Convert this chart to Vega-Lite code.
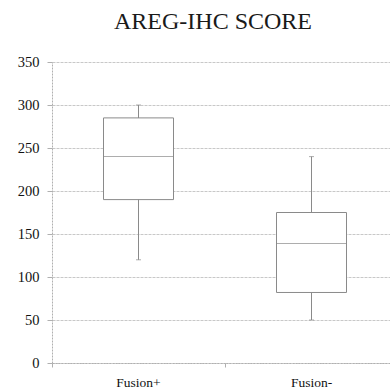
{
  "$schema": "https://vega.github.io/schema/vega-lite/v6.json",
  "autosize": {"type": "none"},
  "width": 346,
  "height": 301,
  "padding": {"left": 52, "top": 62, "right": 0, "bottom": 27},
  "background": "white",
  "title": {
    "text": "AREG-IHC SCORE",
    "font": "Liberation Serif",
    "fontSize": 24,
    "fontWeight": "normal",
    "color": "#1a1a1a",
    "anchor": "middle",
    "dx": -12,
    "offset": 20
  },
  "config": {
    "view": {"stroke": null},
    "font": "Liberation Serif",
    "axis": {
      "labelFont": "Liberation Serif",
      "labelFontSize": 13,
      "labelColor": "#111111",
      "domainColor": "#b0b0b0",
      "tickColor": "#b0b0b0",
      "gridColor": "#c8c8c8",
      "title": null
    }
  },
  "data": {
    "values": [
      {"group": "Fusion+", "lo": 120, "q1": 190, "med": 240, "q3": 285, "hi": 300},
      {"group": "Fusion-", "lo": 50, "q1": 82, "med": 139, "q3": 175, "hi": 240}
    ]
  },
  "encoding": {
    "x": {
      "field": "group",
      "type": "nominal",
      "sort": ["Fusion+", "Fusion-"],
      "scale": {"paddingInner": 0, "paddingOuter": 0},
      "axis": {
        "labelFont": "Liberation Serif",
        "labelFontSize": 13.5,
        "labelAngle": 0,
        "bandPosition": 0,
        "tickSize": 4,
        "labelPadding": 8,
        "domainDash": [2, 1]
      }
    }
  },
  "layer": [
    {
      "mark": {"type": "rule", "color": "#8a8a8a", "strokeWidth": 1},
      "encoding": {
        "y": {
          "field": "lo",
          "type": "quantitative",
          "scale": {"domain": [0, 350], "nice": false},
          "axis": {
            "labelFont": "Liberation Serif",
            "values": [0, 50, 100, 150, 200, 250, 300, 350],
            "grid": true,
            "gridDash": [3, 1],
            "domainDash": [2, 1],
            "tickSize": 5,
            "labelPadding": 8,
            "labelFontSize": 14.5
          }
        },
        "y2": {"field": "hi"}
      }
    },
    {
      "mark": {"type": "bar", "fill": "white", "stroke": "#8a8a8a", "strokeWidth": 1, "size": 70},
      "encoding": {
        "y": {"field": "q1", "type": "quantitative"},
        "y2": {"field": "q3"}
      }
    },
    {
      "mark": {"type": "tick", "color": "#8a8a8a", "thickness": 1, "size": 70},
      "encoding": {"y": {"field": "med", "type": "quantitative"}}
    },
    {
      "mark": {"type": "tick", "color": "#8a8a8a", "thickness": 1, "size": 5},
      "encoding": {"y": {"field": "lo", "type": "quantitative"}}
    },
    {
      "mark": {"type": "tick", "color": "#8a8a8a", "thickness": 1, "size": 5},
      "encoding": {"y": {"field": "hi", "type": "quantitative"}}
    }
  ]
}
